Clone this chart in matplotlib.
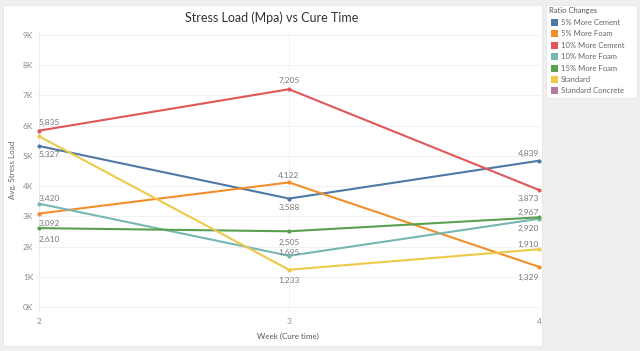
import matplotlib.pyplot as plt
from matplotlib.patches import Rectangle

plt.rcParams['font.family'] = ['Lato', 'DejaVu Sans']

weeks = [2, 3, 4]
series = ['5% More Cement', '5% More Foam', '10% More Cement', '10% More Foam',
          '15% More Foam', 'Standard', 'Standard Concrete']
colors = ['#4e79a7', '#f28e2b', '#e15759', '#76b7b2', '#59a14f', '#edc948', '#b07aa1']
values = {
    '5% More Cement': [5327, 3588, 4839],
    '5% More Foam': [3092, 4122, 1329],
    '10% More Cement': [5835, 7205, 3873],
    '10% More Foam': [3420, 1695, 2920],
    '15% More Foam': [2610, 2505, 2967],
    'Standard': [5650, 1233, 1910],
}
# label offset from the point in pixels (+ above, - below, None = hidden)
label_off = {
    '5% More Cement': [-8, -9, 7],
    '5% More Foam': [-10, 7, -11],
    '10% More Cement': [8, 9, -9],
    '10% More Foam': [5, 3, -10],
    '15% More Foam': [-11, -11, 5],
    'Standard': [None, -11, 5],
}
yticks = [0, 1000, 2000, 3000, 4000, 5000, 6000, 7000, 8000, 9000]
ytick_labels = ['0K', '1K', '2K', '3K', '4K', '5K', '6K', '7K', '8K', '9K']

W, H = 640, 351
fig = plt.figure(figsize=(6.4, 3.51), dpi=100)
fig.patch.set_facecolor('#efefef')
fig.patches.append(Rectangle((3 / W, 1 - 346 / H), 539 / W, 341 / H,
                             transform=fig.transFigure, facecolor='white',
                             edgecolor='#e4e4e4', lw=0.6, zorder=0))
fig.patches.append(Rectangle((546 / W, 1 - 98 / H), 91 / W, 93 / H,
                             transform=fig.transFigure, facecolor='white',
                             edgecolor='#e4e4e4', lw=0.6, zorder=0))

ax = fig.add_axes([36 / W, 1 - 312 / H, 505 / W, 280 / H])
ax.set_zorder(2)
ax.set_facecolor('none')
ax.set_xlim(1.988, 4.008)
ax.set_ylim(-165, 9099)
for s in ax.spines.values():
    s.set_visible(False)
ax.set_yticks(yticks)
ax.set_yticklabels(ytick_labels)
ax.set_xticks(weeks)
ax.set_xticklabels([str(w) for w in weeks])
ax.tick_params(length=0, labelsize=6, labelcolor='#8a8a8a')
ax.tick_params(axis='x', pad=4.5)
ax.tick_params(axis='y', pad=2)
ax.grid(axis='y', color='#efefef', lw=0.6)
ax.axvline(3, color='#f0f0f0', lw=0.6, zorder=0)
ax.axvline(2, color='#e8e8e8', lw=0.6, zorder=0)

for name, c in zip(series, colors):
    if name not in values:
        continue
    v = values[name]
    ax.plot(weeks, v, color=c, lw=1.5, marker='o', ms=2, clip_on=False, zorder=3)
    for i, (w, y) in enumerate(zip(weeks, v)):
        off = label_off[name][i]
        if off is None:
            continue
        ha = 'left' if i == 0 else ('center' if i == 1 else 'right')
        ax.annotate(f'{y:,}', (w, y), xytext=(0, off * 0.72), textcoords='offset points',
                    ha=ha, va='center', fontsize=6, color='#777777', zorder=4)

ax.set_ylabel('Avg. Stress Load', fontsize=5.8, color='#666666')
ax.yaxis.set_label_coords(-(36 - 16) / 505, (312 - 170) / 280)
ax.set_xlabel('Week (Cure time)', fontsize=5.8, color='#555555')
ax.xaxis.set_label_coords((288 - 36) / 505, -(333 - 312) / 280)
fig.text(272 / W, 1 - 18 / H, 'Stress Load (Mpa) vs Cure Time', ha='center',
         va='center', fontsize=9, color='#333333')

fig.text(549 / W, 1 - 11 / H, 'Ratio Changes', fontsize=5.5, color='#555555',
         va='center')
for i, (name, c) in enumerate(zip(series, colors)):
    yc = 22.5 + i * 11.4
    fig.patches.append(Rectangle((551 / W, 1 - (yc + 3.5) / H), 7 / W, 7 / H,
                                 transform=fig.transFigure, facecolor=c, lw=0))
    fig.text(561 / W, 1 - yc / H, name, fontsize=5.5, color='#666666', va='center')

fig.savefig('out.png', dpi=100, facecolor=fig.get_facecolor())
